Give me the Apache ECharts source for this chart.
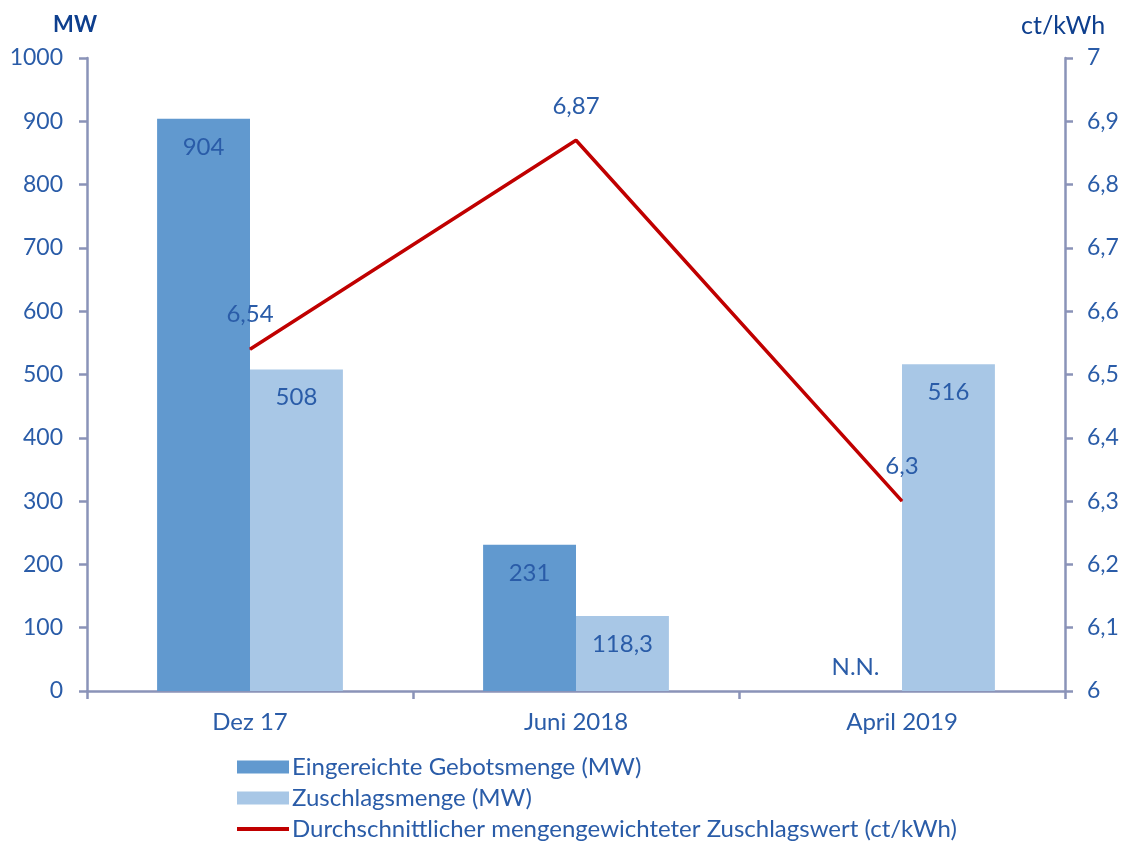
<!DOCTYPE html>
<html lang="de">
<head>
<meta charset="UTF-8">
<title>Ausschreibung</title>
<script src="https://cdn.jsdelivr.net/npm/echarts@6/dist/echarts.min.js"></script>
</head>
<body style="margin:0;background:#fff;">
<div id="main" style="width:1128px;height:842px;"></div>
<script type="text/javascript">
    // Daten
    var categories = ['Dez 17', 'Juni 2018', 'April 2019'];
    var gebotsmenge = [904, 231, 0];          // April 2019: N.N.
    var zuschlagsmenge = [508, 118.3, 516];
    var zuschlagswert = [6.54, 6.87, 6.3];
    var seriesNames = [
        'Eingereichte Gebotsmenge (MW)',
        'Zuschlagsmenge (MW)',
        'Durchschnittlicher mengengewichteter Zuschlagswert (ct/kWh)'
    ];

    var textColor = '#2A5CA8';
    var axisColor = '#8A93B8';
    var fontFam = 'Lato, "Open Sans", sans-serif';

    function komma(v) {
        return String(v).replace('.', ',');
    }

    var gebotData = gebotsmenge.map(function (v, i) {
        if (i === 2) {
            return {value: v, label: {position: 'top', distance: 12, formatter: 'N.N.'}};
        }
        return v;
    });

    var myChart = echarts.init(document.getElementById('main'));
    var option = {
        animation: false,
        textStyle: {fontFamily: fontFam},
        grid: {left: 87, right: 63, top: 58, bottom: 151},
        legend: {
            orient: 'vertical',
            left: 237,
            top: 755,
            height: 87,
            padding: 0,
            itemWidth: 52,
            itemHeight: 13,
            itemGap: 7,
            textStyle: {color: textColor, fontSize: 24, fontFamily: fontFam, padding: [0, 0, 0, -2]},
            data: [
                {name: seriesNames[0], icon: 'rect'},
                {name: seriesNames[1], icon: 'rect'},
                {name: seriesNames[2], icon: 'path://M0,0L60,0L60,4.5L0,4.5Z'}
            ]
        },
        xAxis: {
            type: 'category',
            data: categories,
            axisLine: {lineStyle: {color: axisColor, width: 2.5}},
            axisTick: {show: true, length: 8, lineStyle: {color: axisColor, width: 2.5}},
            axisLabel: {color: textColor, fontSize: 24, margin: 19}
        },
        yAxis: [{
            type: 'value',
            min: 0,
            max: 1000,
            interval: 100,
            name: 'MW',
            nameGap: 22,
            nameTextStyle: {color: '#0E3F8E', fontSize: 22, fontWeight: 'bold', align: 'right', padding: [0, -10, 0, 0]},
            axisLine: {show: true, lineStyle: {color: axisColor, width: 2.5}},
            axisTick: {show: true, length: 8, lineStyle: {color: axisColor, width: 2.5}},
            axisLabel: {color: textColor, fontSize: 23, margin: 24, formatter: function (v) { return String(v); }},
            splitLine: {show: false}
        }, {
            type: 'value',
            min: 6,
            max: 7,
            interval: 0.1,
            name: 'ct/kWh',
            nameGap: 20,
            nameTextStyle: {color: '#0E3F8E', fontSize: 25, align: 'left', padding: [0, 0, 0, -44]},
            axisLine: {show: true, lineStyle: {color: axisColor, width: 2.5}},
            axisTick: {show: true, length: 8, lineStyle: {color: axisColor, width: 2.5}},
            axisLabel: {
                color: textColor, fontSize: 23, margin: 22,
                formatter: function (v) { return komma(Math.round(v * 10) / 10); }
            },
            splitLine: {show: false}
        }],
        series: [{
            name: seriesNames[0],
            type: 'bar',
            data: gebotData,
            itemStyle: {color: '#6199CF'},
            barGap: '0%',
            barCategoryGap: '43%',
            label: {show: true, position: 'insideTop', distance: 16, color: textColor, fontSize: 24, formatter: function (p) { return komma(p.value); }}
        }, {
            name: seriesNames[1],
            type: 'bar',
            data: zuschlagsmenge,
            itemStyle: {color: '#A8C7E6'},
            label: {show: true, position: 'insideTop', distance: 16, color: textColor, fontSize: 24, formatter: function (p) { return komma(p.value); }}
        }, {
            name: seriesNames[2],
            type: 'line',
            yAxisIndex: 1,
            data: zuschlagswert,
            symbol: 'circle',
            symbolSize: 1,
            z: 5,
            itemStyle: {color: '#C00000'},
            lineStyle: {color: '#C00000', width: 3.5},
            label: {show: true, position: 'top', distance: 22, color: textColor, fontSize: 24, formatter: function (p) { return komma(p.value); }}
        }]
    };
    myChart.setOption(option);
</script>
</body>
</html>
